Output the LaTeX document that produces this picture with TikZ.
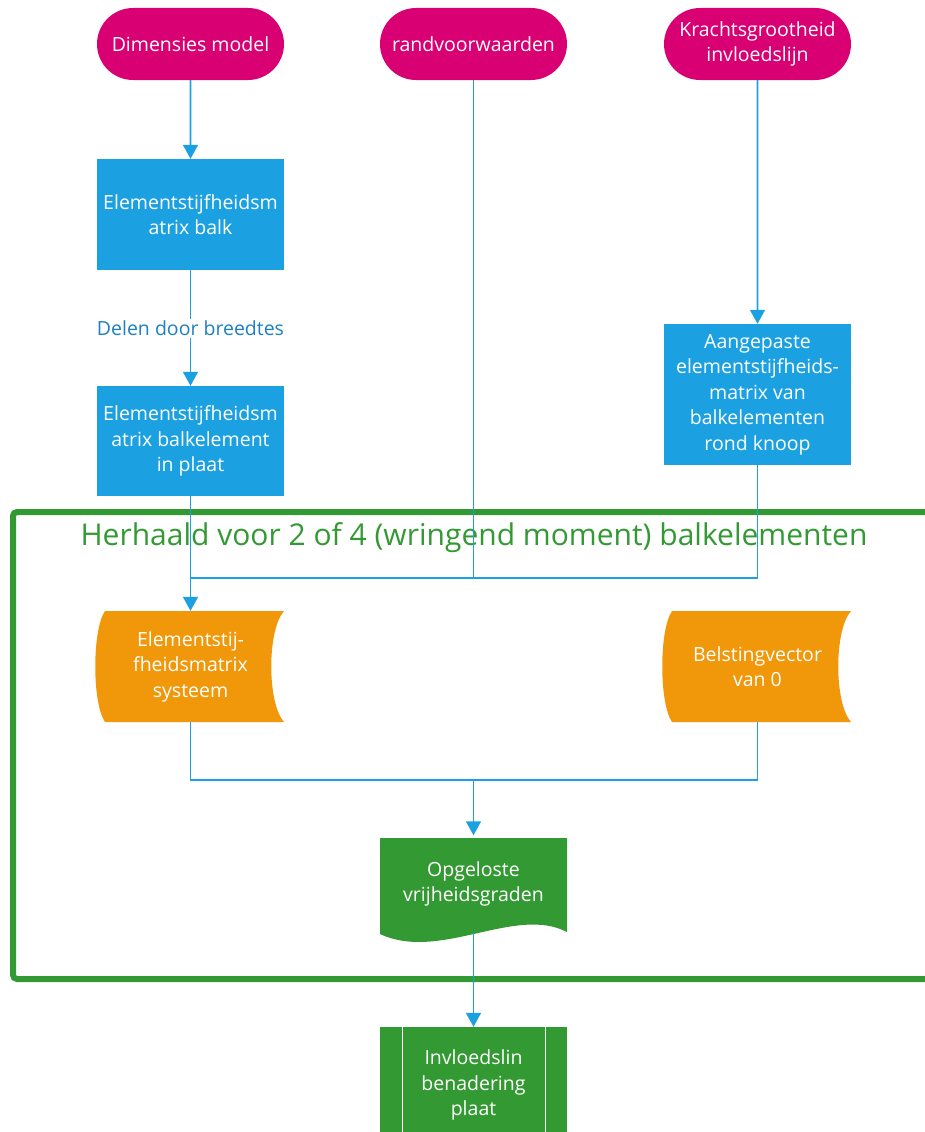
\documentclass[tikz,border=0pt]{standalone}
\usepackage{fontspec}
\setmainfont{Open Sans}
\usetikzlibrary{arrows.meta,shapes.misc,calc}
\definecolor{cmag}{HTML}{D80073}
\definecolor{cblue}{HTML}{1BA1E2}
\definecolor{corange}{HTML}{F0980A}
\definecolor{cgreen}{HTML}{339933}
\definecolor{clabel}{HTML}{1F80C0}
\tikzset{
  txt/.style={font=\fontsize{19.5}{25.5}\selectfont, text=white, align=center, inner sep=0pt},
  term/.style={txt, rounded rectangle, fill=cmag, minimum width=187pt, minimum height=72pt},
  proc/.style={txt, rectangle, fill=cblue, minimum width=187pt},
  conn/.style={draw=cblue, line width=1.6pt},
  arr/.style={conn, -{Triangle[width=15pt,length=14pt]}},
}
\begin{document}
\begin{tikzpicture}[x=1pt,y=-1pt]
\useasboundingbox (0,0) rectangle (925,1132);
\clip (0,0) rectangle (925,1132);
% terminators
\node[term] (dim) at (190.5,44) {Dimensies model};
\node[term] (rand) at (473.5,44) {randvoorwaarden};
\node[term] (kracht) at (757.5,44) {Krachtsgrootheid\\invloedslijn};
% processes
\node[proc, minimum height=111pt] (ebalk) at (190.5,214.5) {Elementstijfheidsm\\atrix balk};
\node[proc, minimum height=110pt] (eplaat) at (190.5,441) {Elementstijfheidsm\\atrix balkelement\\in plaat};
\node[proc, minimum height=141pt] (aang) at (757.5,394.5) {Aangepaste\\elementstijfheids-\\matrix van\\balkelementen\\rond knoop};
% stored data shapes
\fill[corange] (105,611) -- (284,611) .. controls (267,630) and (267,703) .. (284,722) -- (105,722) .. controls (92,703) and (92,630) .. (105,611) -- cycle;
\fill[corange] (672,611) -- (851,611) .. controls (834,630) and (834,703) .. (851,722) -- (672,722) .. controls (659,703) and (659,630) .. (672,611) -- cycle;
\node[txt, minimum width=187pt, minimum height=111pt] (sysm) at (190.5,666.5) {Elementstij-\\fheidsmatrix\\systeem};
\node[txt, minimum width=187pt, minimum height=111pt] (belast) at (757.5,666.5) {Belstingvector\\van 0};
% document
\fill[cgreen] (380,838) -- (567,838) -- (567,932) .. controls (515,905) and (440,962) .. (380,934) -- cycle;
\node[txt, minimum width=187pt, minimum height=97pt] (doc) at (473.5,884) {Opgeloste\\vrijheidsgraden};
% predefined process
\fill[cgreen] (380,1027) rectangle (567,1140);
\draw[white, line width=1.5pt] (402.5,1027) -- (402.5,1140) (545.5,1027) -- (545.5,1140);
\node[txt, minimum width=187pt, minimum height=116pt] (pred) at (473.5,1085) {Invloedslin\\benadering\\plaat};
% group frame
\draw[cgreen, line width=6pt, rounded corners=4pt] (13,512) rectangle (960,979);
\node[font=\fontsize{30}{34}\selectfont, text=cgreen, inner sep=0pt] (title) at (474,538) {Herhaald voor 2 of 4 (wringend moment) balkelementen};
% connectors
\draw[arr] (dim) -- (ebalk);
\draw[arr] (ebalk) -- node[fill=white, inner sep=2pt, text=clabel, font=\fontsize{19.5}{22}\selectfont] (lbl) {Delen door breedtes} (eplaat);
\draw[arr] (kracht) -- (aang);
\coordinate (j1) at (190.5,578);
\draw[arr] (eplaat) -- (sysm.north);
\draw[conn] (aang.south) |- (j1);
\draw[conn] (rand.south) -- (rand.south |- j1);
\coordinate (j2) at (473.5,780);
\draw[conn] (sysm.south) |- (j2) -| (belast.south);
\draw[arr] (j2) -- (doc.north);
\draw[arr] (doc.south) -- (pred.north);
\end{tikzpicture}
\end{document}
